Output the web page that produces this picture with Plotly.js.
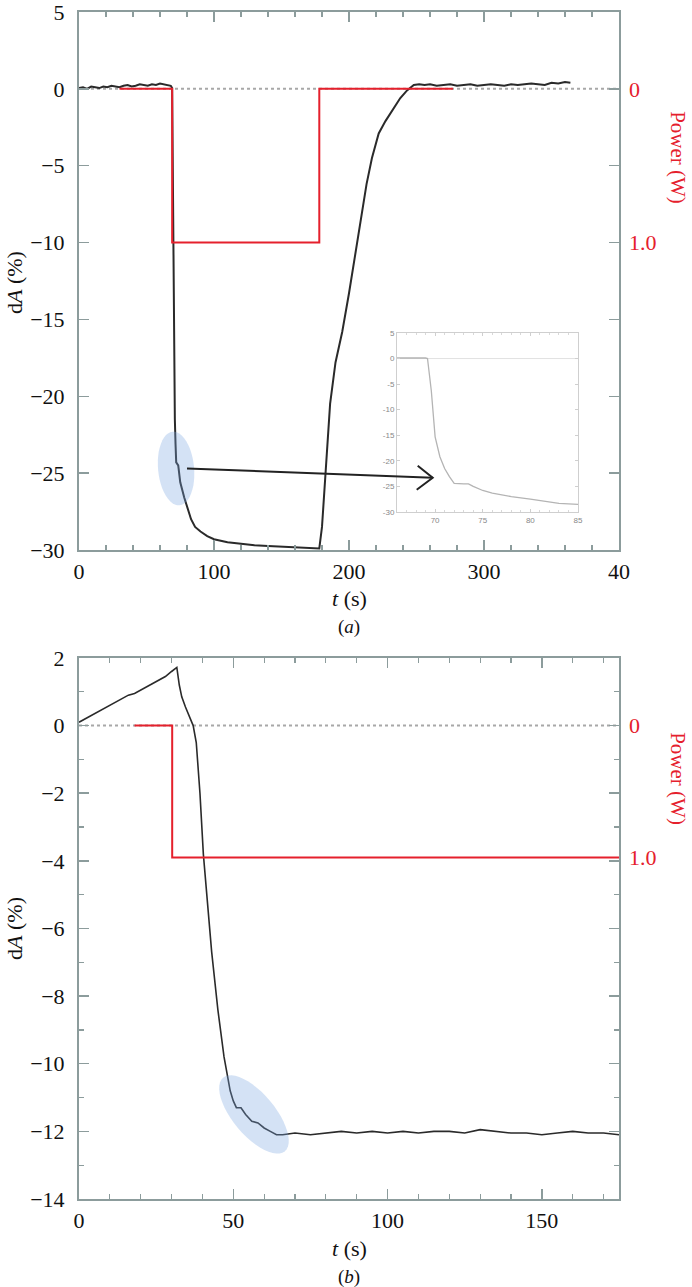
<!DOCTYPE html>
<html>
<head>
<meta charset="utf-8">
<script src="https://cdn.plot.ly/plotly-3.0.1.min.js"></script>
<style>
  html, body { margin: 0; padding: 0; background: #fff; }
  #chart { width: 692px; height: 1287px; }
</style>
</head>
<body>
<div id="chart"></div>
<script>
// ---------------------------------------------------------------------------
// Data
// ---------------------------------------------------------------------------

// (a) absorbance change vs time
const topT = [0, 3, 6, 9, 12, 15, 18, 21, 24, 27, 30, 33, 36, 39, 42, 45, 48, 51, 54, 57,
    60, 63, 66, 68, 69, 69.6, 70, 70.5, 71, 71.5, 72, 73.5, 75, 78, 80, 83, 86, 90, 95, 100,
    110, 120, 130, 140, 150, 160, 170, 177, 178, 180, 183, 186, 190, 195, 200, 205, 210, 213, 217, 222,
    227, 232, 238, 243, 248, 252, 256, 260, 265, 270, 275, 280, 285, 290, 295, 300, 305, 310, 315, 320,
    325, 330, 335, 340, 345, 350, 355, 360, 364];
const topDA = [0.05, 0.1, 0.0, 0.15, 0.1, 0.05, 0.15, 0.1, 0.2, 0.15, 0.1, 0.2, 0.25, 0.15, 0.2, 0.3, 0.25, 0.2, 0.3, 0.25,
    0.35, 0.3, 0.25, 0.2, 0.05, -6.3, -15.3, -19.2, -21.5, -23.1, -24.3, -24.5, -25.6, -26.6, -27.2, -28.0, -28.5, -28.8, -29.1, -29.3,
    -29.5, -29.6, -29.7, -29.75, -29.8, -29.85, -29.9, -29.9, -29.9, -28.5, -24.8, -20.5, -17.8, -15.8, -13.3, -10.6, -7.9, -6.2, -4.5, -2.9,
    -2.1, -1.4, -0.6, -0.1, 0.25, 0.3, 0.25, 0.3, 0.2, 0.25, 0.3, 0.2, 0.25, 0.3, 0.2, 0.25, 0.3, 0.25, 0.2, 0.3,
    0.25, 0.3, 0.35, 0.3, 0.25, 0.4, 0.35, 0.45, 0.4];

// (a) laser power
const topPowT = [30, 69, 69, 178, 178, 277];
const topPowW = [0, 0, 1, 1, 0, 0];

// (a) inset, zoom on the drop
const insetT = [66, 67, 68, 69, 69.2, 69.6, 70, 70.5, 71, 71.5, 72, 73, 73.5, 74, 75, 76, 78, 80, 82, 83, 85];
const insetDA = [0.1, 0.15, 0.1, 0.1, 0.0, -6.3, -15.3, -19.2, -21.5, -23.1, -24.4, -24.5, -24.5, -25.0, -25.8, -26.3, -27.0, -27.5, -28.0, -28.3, -28.5];
const insetYTicks = [5, 0, -5, -10, -15, -20, -25, -30];
const insetYText = ['5', '0', '-5', '-10', '-15', '-20', '-25', '-30'];

// (b) absorbance change vs time
const botT = [0, 2, 4, 6, 8, 10, 12, 14, 16, 18, 20, 22, 24, 26, 28, 30,
    31.7, 32.5, 33.3, 34.5, 36, 37, 38, 39.2, 40.3, 41.5,
    43, 45, 47, 49, 50, 51, 52.5, 54, 56, 58,
    60, 62, 64, 66, 70, 75, 80, 85, 90, 95,
    100, 105, 110, 115, 120, 125, 130, 135, 140, 145, 150, 155, 160, 165, 170, 175];
const botDA = [0.1, 0.2, 0.3, 0.4, 0.5, 0.6, 0.7, 0.8, 0.9, 0.95, 1.05, 1.15, 1.25, 1.35, 1.45, 1.6,
    1.72, 1.2, 0.85, 0.55, 0.2, 0.0, -0.5, -2.0, -3.8, -5.0,
    -6.7, -8.4, -9.8, -10.8, -11.1, -11.3, -11.3, -11.5, -11.7, -11.75,
    -11.9, -12.0, -12.1, -12.1, -12.05, -12.1, -12.05, -12.0, -12.05, -12.0,
    -12.05, -12.0, -12.05, -12.0, -12.0, -12.05, -11.95, -12.0, -12.05, -12.05, -12.1, -12.05, -12.0, -12.05, -12.05, -12.1];

// (b) laser power
const botPowT = [18, 30.2, 30.2, 175];
const botPowW = [0, 0, 1, 1];

// tick labels
const topXTicks = [0, 100, 200, 300, 400];
const topXText = ['0', '100', '200', '300', '40'];
const topYTicks = [5, 0, -5, -10, -15, -20, -25, -30];
const botYTicks = [2, 0, -2, -4, -6, -8, -10, -12, -14];
const powTicks = [0, 1];
const powText = ['0', '1.0'];

// ---------------------------------------------------------------------------
// Styling helpers
// ---------------------------------------------------------------------------

const SERIF = '"Liberation Serif", "Times New Roman", Times, serif';
const SANS = '"Liberation Sans", Arial, sans-serif';
const AXIS_GREY = '#8c9c9c';
const RED = '#e5202c';
const DARK = '#2a2a2a';

// rotated ellipse as a pixel-offset path (y up), used for the blue highlights
function ellipsePath(a, b, deg) {
    const th = deg * Math.PI / 180;
    const pts = [];
    for (let i = 0; i <= 48; i++) {
        const s = 2 * Math.PI * i / 48;
        const ex = a * Math.cos(s), ey = b * Math.sin(s);
        const sx = ex * Math.cos(th) - ey * Math.sin(th);
        const sy = ex * Math.sin(th) + ey * Math.cos(th);
        pts.push((i ? 'L' : 'M') + sx.toFixed(1) + ',' + (-sy).toFixed(1));
    }
    return pts.join(' ') + ' Z';
}

function mainX(extra) {
    return Object.assign({
        showline: true, linecolor: AXIS_GREY, linewidth: 2, mirror: 'ticks',
        ticks: 'inside', ticklen: 10, tickwidth: 1.5, tickcolor: AXIS_GREY,
        showgrid: false, zeroline: false, ticklabeloverflow: 'allow',
        tickfont: { family: SERIF, size: 22, color: '#111' },
        ticklabelstandoff: 1
    }, extra);
}

function mainY(extra) {
    return Object.assign({
        showline: true, linecolor: AXIS_GREY, linewidth: 2, mirror: 'ticks',
        ticks: 'inside', ticklen: 10, tickwidth: 1.5, tickcolor: AXIS_GREY,
        showgrid: false, zeroline: false, ticklabeloverflow: 'allow',
        tickfont: { family: SERIF, size: 22, color: '#111' },
        ticklabelstandoff: 8
    }, extra);
}

function powerY(extra) {
    return Object.assign({
        side: 'right', showline: false, ticks: '', showgrid: false, zeroline: false,
        tickvals: powTicks, ticktext: powText,
        tickfont: { family: SERIF, size: 22, color: RED },
        ticklabelstandoff: 9
    }, extra);
}

function label(x, y, text, size, color, angle) {
    return { xref: 'paper', yref: 'paper', x: x, y: y, xanchor: 'center', yanchor: 'middle',
             showarrow: false, textangle: angle || 0, text: text,
             font: { family: SERIF, size: size, color: color } };
}

// ---------------------------------------------------------------------------
// Traces
// ---------------------------------------------------------------------------

const traces = [
    { x: topT, y: topDA, xaxis: 'x', yaxis: 'y', mode: 'lines',
      line: { color: DARK, width: 2 }, hoverinfo: 'skip' },
    { x: topPowT, y: topPowW, xaxis: 'x', yaxis: 'y2', mode: 'lines',
      line: { color: RED, width: 2 }, hoverinfo: 'skip' },
    { x: insetT, y: insetDA, xaxis: 'x3', yaxis: 'y5', mode: 'lines',
      line: { color: '#b4b4b4', width: 1.3 }, hoverinfo: 'skip' },
    { x: botT, y: botDA, xaxis: 'x2', yaxis: 'y3', mode: 'lines',
      line: { color: DARK, width: 1.6 }, hoverinfo: 'skip' },
    { x: botPowT, y: botPowW, xaxis: 'x2', yaxis: 'y4', mode: 'lines',
      line: { color: RED, width: 2 }, hoverinfo: 'skip' }
];

// ---------------------------------------------------------------------------
// Layout
// ---------------------------------------------------------------------------

const layout = {
    width: 692,
    height: 1287,
    margin: { l: 79, r: 73, t: 12, b: 88 },
    paper_bgcolor: '#fff',
    plot_bgcolor: '#fff',
    showlegend: false,
    font: { family: SERIF },

    // panel (a)
    xaxis: mainX({ domain: [0, 1], anchor: 'y', range: [0, 400],
        tickvals: topXTicks, ticktext: topXText,
        minor: { dtick: 20, ticks: 'inside', ticklen: 5, tickcolor: AXIS_GREY, tickwidth: 1.2 } }),
    yaxis: mainY({ domain: [0.5468, 1], anchor: 'x', range: [-30, 5], tickvals: topYTicks }),
    yaxis2: powerY({ overlaying: 'y', anchor: 'x', range: [3, -0.5] }),

    // panel (b)
    xaxis2: mainX({ domain: [0, 1], anchor: 'y3', range: [0, 175], dtick: 50,
        minor: { dtick: 10, ticks: 'inside', ticklen: 5, tickcolor: AXIS_GREY, tickwidth: 1.2 } }),
    yaxis3: mainY({ domain: [0, 0.4558], anchor: 'x2', range: [-14, 2], tickvals: botYTicks,
        minor: { dtick: 1, ticks: 'inside', ticklen: 5, tickcolor: AXIS_GREY, tickwidth: 1.2 } }),
    yaxis4: powerY({ overlaying: 'y3', anchor: 'x2', range: [14 / 3.9, -2 / 3.9] }),

    // inset in (a)
    xaxis3: {
        domain: [0.5889, 0.9241], anchor: 'y5', range: [66, 85],
        tickvals: [70, 75, 80, 85],
        showline: true, linecolor: '#cfcfcf', linewidth: 1, mirror: 'ticks',
        ticks: 'inside', ticklen: 3, tickcolor: '#cfcfcf',
        minor: { dtick: 1, ticks: 'inside', ticklen: 2, tickcolor: '#d8d8d8' },
        showgrid: false, zeroline: false,
        tickfont: { family: SANS, size: 8, color: '#888' }
    },
    yaxis5: {
        domain: [0.5788, 0.7296], anchor: 'x3', range: [-30, 5],
        tickvals: insetYTicks, ticktext: insetYText,
        showline: true, linecolor: '#cfcfcf', linewidth: 1, mirror: 'ticks',
        ticks: 'inside', ticklen: 3, tickcolor: '#cfcfcf',
        showgrid: false, zeroline: false, ticklabeloverflow: 'allow',
        tickfont: { family: SANS, size: 8, color: '#888' }
    },

    shapes: [
        // dotted zero references
        { type: 'line', xref: 'x', yref: 'y', x0: 0, x1: 400, y0: 0, y1: 0, layer: 'below',
          line: { color: '#a8a8a8', width: 2, dash: 'dot' } },
        { type: 'line', xref: 'x2', yref: 'y3', x0: 0, x1: 175, y0: 0, y1: 0, layer: 'below',
          line: { color: '#a8a8a8', width: 2, dash: 'dot' } },
        { type: 'line', xref: 'x3', yref: 'y5', x0: 66, x1: 85, y0: 0, y1: 0, layer: 'below',
          line: { color: '#e2e2e2', width: 1 } },
        // blue highlights
        { type: 'path', xref: 'x', yref: 'y', xsizemode: 'pixel', ysizemode: 'pixel',
          xanchor: 71.9, yanchor: -24.7, path: ellipsePath(37, 18, 84.6),
          fillcolor: 'rgba(120,165,225,0.32)', line: { width: 0 }, layer: 'above' },
        { type: 'path', xref: 'x2', yref: 'y3', xsizemode: 'pixel', ysizemode: 'pixel',
          xanchor: 56.7, yanchor: -11.5, path: ellipsePath(48, 21, 50),
          fillcolor: 'rgba(120,165,225,0.32)', line: { width: 0 }, layer: 'above' },
        // arrow to the inset
        { type: 'line', xref: 'x', yref: 'y', x0: 80, y0: -24.7, x1: 262, y1: -25.3,
          line: { color: '#222', width: 2 }, layer: 'above' },
        { type: 'path', xref: 'x', yref: 'y', xsizemode: 'pixel', ysizemode: 'pixel',
          xanchor: 262, yanchor: -25.3, path: 'M-15,12 L0,0 L-16,-12',
          line: { color: '#222', width: 2 }, layer: 'above' }
    ],

    annotations: [
        label(-0.1185, 0.7717, 'd<i>A</i> (%)', 22, '#111', -90),
        label(-0.1185, 0.2275, 'd<i>A</i> (%)', 22, '#111', -90),
        label(1.109, 0.877, 'Power (W)', 21, RED, 90),
        label(1.109, 0.3538, 'Power (W)', 21, RED, 90),
        label(0.5, 0.5055, '<i>t</i> (s)', 22, '#111'),
        label(0.5, 0.4819, '(<i>a</i>)', 19, '#111'),
        label(0.5, -0.0413, '<i>t</i> (s)', 22, '#111'),
        label(0.5, -0.0657, '(<i>b</i>)', 19, '#111')
    ]
};

Plotly.newPlot('chart', traces, layout, { displayModeBar: false, staticPlot: true });
</script>
</body>
</html>
